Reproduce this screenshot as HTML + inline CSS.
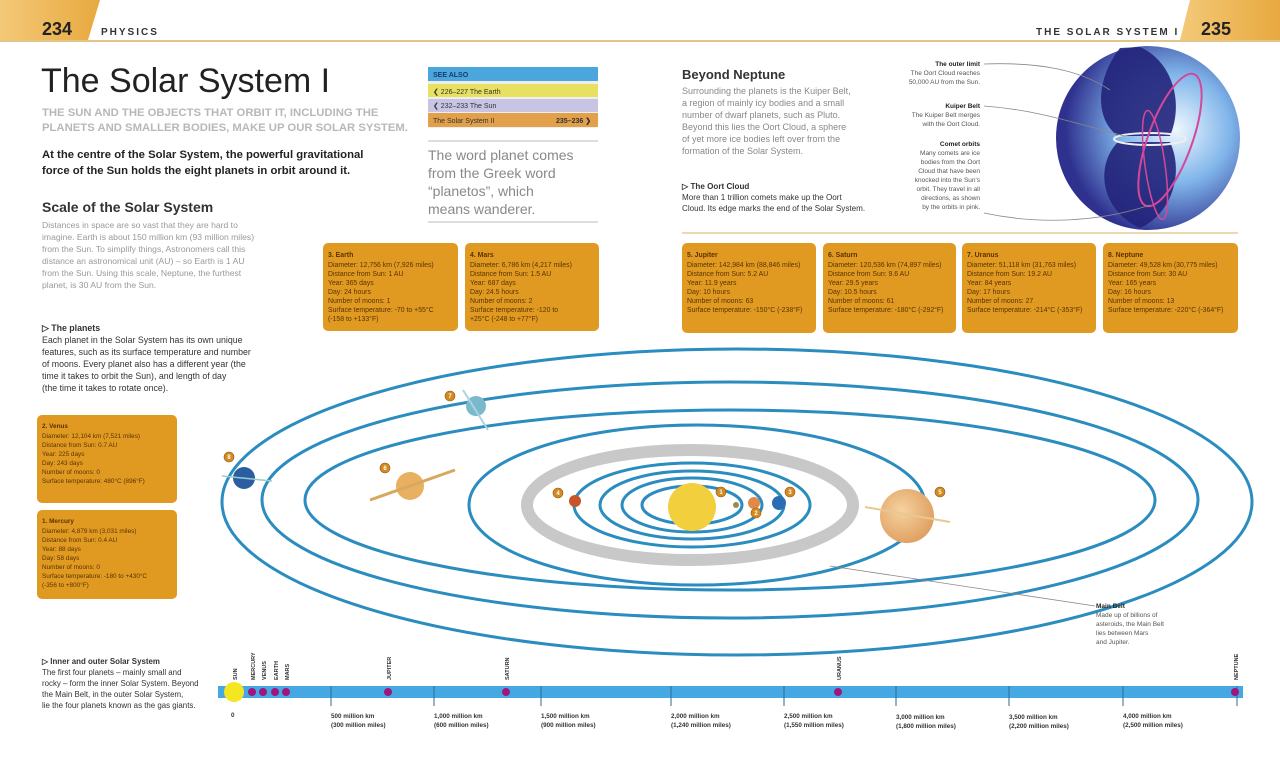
<!DOCTYPE html>
<html><head><meta charset="utf-8"><style>
body{margin:0;width:1280px;height:771px;background:#fff;overflow:hidden;font-family:"Liberation Sans",sans-serif}
svg{display:block}
.t{font-family:"Liberation Sans",sans-serif}
</style></head><body>
<svg width="1280" height="771" viewBox="0 0 1280 771" xmlns="http://www.w3.org/2000/svg">
<defs>
<linearGradient id="tab" x1="0" x2="1"><stop offset="0" stop-color="#f3c978"/><stop offset="1" stop-color="#e8a93f"/></linearGradient>
<radialGradient id="oort" cx="0.65" cy="0.45" r="0.6"><stop offset="0" stop-color="#eef8ff"/><stop offset="0.5" stop-color="#7fb4ea"/><stop offset="1" stop-color="#2f318f"/></radialGradient>
<radialGradient id="jup" cx="0.4" cy="0.4" r="0.7"><stop offset="0" stop-color="#f6d2a0"/><stop offset="1" stop-color="#dd9a5a"/></radialGradient>
</defs>
<path d="M0 0 H100 L88 40 H0 Z" fill="url(#tab)"/>
<path d="M1280 0 H1190 L1180 40 H1280 Z" fill="url(#tab)"/>
<line x1="0" y1="41" x2="1280" y2="41" stroke="#e2c48a" stroke-width="2"/>
<text x="42" y="35" font-size="18" font-weight="bold" fill="#222" class="t">234</text>
<text x="101" y="35" font-size="10" font-weight="bold" fill="#333" letter-spacing="2" class="t">PHYSICS</text>
<text x="1036" y="35" font-size="10" font-weight="bold" fill="#333" letter-spacing="2" class="t">THE SOLAR SYSTEM I</text>
<text x="1201" y="35" font-size="18" font-weight="bold" fill="#222" class="t">235</text>
<text x="41" y="92" font-size="34" fill="#222" class="t">The Solar System I</text>
<text x="42" y="116" font-size="11.3" font-weight="bold" fill="#b8b8b8" class="t">THE SUN AND THE OBJECTS THAT ORBIT IT, INCLUDING THE</text>
<text x="42" y="131" font-size="11.3" font-weight="bold" fill="#b8b8b8" class="t">PLANETS AND SMALLER BODIES, MAKE UP OUR SOLAR SYSTEM.</text>
<text x="42" y="158" font-size="11.3" font-weight="bold" fill="#222" class="t">At the centre of the Solar System, the powerful gravitational</text>
<text x="42" y="174" font-size="11.3" font-weight="bold" fill="#222" class="t">force of the Sun holds the eight planets in orbit around it.</text>
<text x="42" y="212" font-size="14" font-weight="bold" fill="#333" class="t">Scale of the Solar System</text>
<g font-size="8.6" fill="#999" class="t">
<text x="42" y="228">Distances in space are so vast that they are hard to</text>
<text x="42" y="240">imagine. Earth is about 150 million km (93 million miles)</text>
<text x="42" y="252">from the Sun. To simplify things, Astronomers call this</text>
<text x="42" y="264">distance an astronomical unit (AU) – so Earth is 1 AU</text>
<text x="42" y="276">from the Sun. Using this scale, Neptune, the furthest</text>
<text x="42" y="288">planet, is 30 AU from the Sun.</text>
</g>
<g font-size="8.8" fill="#333" class="t">
<text x="42" y="331" font-weight="bold">▷ The planets</text>
<text x="42" y="343">Each planet in the Solar System has its own unique</text>
<text x="42" y="355">features, such as its surface temperature and number</text>
<text x="42" y="367">of moons. Every planet also has a different year (the</text>
<text x="42" y="379">time it takes to orbit the Sun), and length of day</text>
<text x="42" y="391">(the time it takes to rotate once).</text>
</g>
<rect x="428" y="67" width="170" height="61" rx="3" fill="#eee"/>
<rect x="428" y="67" width="170" height="14" fill="#4aa6dd"/>
<rect x="428" y="84" width="170" height="13" fill="#e8e060"/>
<rect x="428" y="99" width="170" height="13" fill="#c7c4e4"/>
<rect x="428" y="113" width="170" height="14" fill="#e2a04a"/>
<g font-size="7" class="t">
<text x="433" y="77" font-weight="bold" fill="#1a3a6a">SEE ALSO</text>
<text x="433" y="94" fill="#333">❮ 226–227 The Earth</text>
<text x="433" y="108" fill="#333">❮ 232–233 The Sun</text>
<text x="433" y="123" fill="#333">The Solar System II</text>
<text x="556" y="123" fill="#333" font-weight="bold">235–236 ❯</text>
</g>
<line x1="428" y1="141" x2="598" y2="141" stroke="#ddd" stroke-width="2"/>
<g font-size="14" fill="#888" class="t">
<text x="428" y="160">The word planet comes</text>
<text x="428" y="178">from the Greek word</text>
<text x="428" y="196">“planetos”, which</text>
<text x="428" y="214">means wanderer.</text>
</g>
<line x1="428" y1="222" x2="598" y2="222" stroke="#ddd" stroke-width="2"/>
<text x="682" y="79" font-size="13" font-weight="bold" fill="#333" class="t">Beyond Neptune</text>
<g font-size="9" fill="#888" class="t">
<text x="682" y="94">Surrounding the planets is the Kuiper Belt,</text>
<text x="682" y="106">a region of mainly icy bodies and a small</text>
<text x="682" y="118">number of dwarf planets, such as Pluto.</text>
<text x="682" y="130">Beyond this lies the Oort Cloud, a sphere</text>
<text x="682" y="142">of yet more ice bodies left over from the</text>
<text x="682" y="154">formation of the Solar System.</text>
</g>
<g font-size="8.1" fill="#333" class="t">
<text x="682" y="189" font-weight="bold">▷ The Oort Cloud</text>
<text x="682" y="200">More than 1 trillion comets make up the Oort</text>
<text x="682" y="211">Cloud. Its edge marks the end of the Solar System.</text>
</g>
<g font-size="6.5" fill="#555" class="t" text-anchor="end">
<text x="980" y="66" font-weight="bold" fill="#222">The outer limit</text>
<text x="980" y="75">The Oort Cloud reaches</text>
<text x="980" y="84">50,000 AU from the Sun.</text>
<text x="980" y="108" font-weight="bold" fill="#222">Kuiper Belt</text>
<text x="980" y="117">The Kuiper Belt merges</text>
<text x="980" y="126">with the Oort Cloud.</text>
<text x="980" y="146" font-weight="bold" fill="#222">Comet orbits</text>
<text x="980" y="155">Many comets are ice</text>
<text x="980" y="164">bodies from the Oort</text>
<text x="980" y="173">Cloud that have been</text>
<text x="980" y="182">knocked into the Sun's</text>
<text x="980" y="191">orbit. They travel in all</text>
<text x="980" y="200">directions, as shown</text>
<text x="980" y="209">by the orbits in pink.</text>
</g>
<circle cx="1148" cy="138" r="92" fill="url(#oort)"/>
<path d="M1120 48 C1095 80 1095 120 1118 136 L1170 136 C1185 100 1170 60 1140 47 Z" fill="#22237a" opacity="0.9"/>
<path d="M1118 142 C1095 165 1100 210 1140 228 C1170 215 1185 175 1170 142 Z" fill="#22237a" opacity="0.9"/>
<ellipse cx="1150" cy="139" rx="36" ry="6" fill="none" stroke="#eee" stroke-width="2"/>
<ellipse cx="1170" cy="140" rx="22" ry="70" transform="rotate(20 1170 140)" fill="none" stroke="#d4489a" stroke-width="2"/>
<ellipse cx="1155" cy="165" rx="10" ry="55" transform="rotate(-8 1155 165)" fill="none" stroke="#d4489a" stroke-width="1.5"/>
<g stroke="#888" fill="none" stroke-width="0.8">
<path d="M984 64 C1040 62 1080 70 1110 90"/>
<path d="M984 106 C1040 110 1080 125 1125 136"/>
<path d="M984 213 C1040 225 1100 222 1150 205"/>
</g>
<line x1="682" y1="233" x2="1238" y2="233" stroke="#ecd9b0" stroke-width="2"/>
<g fill="#e09a22">
<rect x="323" y="243" width="135" height="88" rx="5"/>
<rect x="465" y="243" width="134" height="88" rx="5"/>
<rect x="682" y="243" width="134" height="90" rx="5"/>
<rect x="823" y="243" width="133" height="90" rx="5"/>
<rect x="962" y="243" width="134" height="90" rx="5"/>
<rect x="1103" y="243" width="135" height="90" rx="5"/>
<rect x="37" y="415" width="140" height="88" rx="5"/>
<rect x="37" y="510" width="140" height="89" rx="5"/>
</g>
<g font-size="6.9" fill="#5a3300" class="t">
<text x="328" y="257" font-weight="bold">3. Earth</text><text x="328" y="267">Diameter: 12,756 km (7,926 miles)</text><text x="328" y="276">Distance from Sun: 1 AU</text><text x="328" y="285">Year: 365 days</text><text x="328" y="294">Day: 24 hours</text><text x="328" y="303">Number of moons: 1</text><text x="328" y="312">Surface temperature: -70 to +55°C</text><text x="328" y="321">(-158 to +133°F)</text>
<text x="470" y="257" font-weight="bold">4. Mars</text><text x="470" y="267">Diameter: 6,786 km (4,217 miles)</text><text x="470" y="276">Distance from Sun: 1.5 AU</text><text x="470" y="285">Year: 687 days</text><text x="470" y="294">Day: 24.5 hours</text><text x="470" y="303">Number of moons: 2</text><text x="470" y="312">Surface temperature: -120 to</text><text x="470" y="321">+25°C (-248 to +77°F)</text>
<text x="687" y="257" font-weight="bold">5. Jupiter</text><text x="687" y="267">Diameter: 142,984 km (88,846 miles)</text><text x="687" y="276">Distance from Sun: 5.2 AU</text><text x="687" y="285">Year: 11.9 years</text><text x="687" y="294">Day: 10 hours</text><text x="687" y="303">Number of moons: 63</text><text x="687" y="312">Surface temperature: -150°C (-238°F)</text>
<text x="828" y="257" font-weight="bold">6. Saturn</text><text x="828" y="267">Diameter: 120,536 km (74,897 miles)</text><text x="828" y="276">Distance from Sun: 9.6 AU</text><text x="828" y="285">Year: 29.5 years</text><text x="828" y="294">Day: 10.5 hours</text><text x="828" y="303">Number of moons: 61</text><text x="828" y="312">Surface temperature: -180°C (-292°F)</text>
<text x="967" y="257" font-weight="bold">7. Uranus</text><text x="967" y="267">Diameter: 51,118 km (31,763 miles)</text><text x="967" y="276">Distance from Sun: 19.2 AU</text><text x="967" y="285">Year: 84 years</text><text x="967" y="294">Day: 17 hours</text><text x="967" y="303">Number of moons: 27</text><text x="967" y="312">Surface temperature: -214°C (-353°F)</text>
<text x="1108" y="257" font-weight="bold">8. Neptune</text><text x="1108" y="267">Diameter: 49,528 km (30,775 miles)</text><text x="1108" y="276">Distance from Sun: 30 AU</text><text x="1108" y="285">Year: 165 years</text><text x="1108" y="294">Day: 16 hours</text><text x="1108" y="303">Number of moons: 13</text><text x="1108" y="312">Surface temperature: -220°C (-364°F)</text>
</g>
<g font-size="6.4" fill="#5a3300" class="t">
<text x="42" y="428" font-weight="bold">2. Venus</text><text x="42" y="438">Diameter: 12,104 km (7,521 miles)</text><text x="42" y="447">Distance from Sun: 0.7 AU</text><text x="42" y="456">Year: 225 days</text><text x="42" y="465">Day: 243 days</text><text x="42" y="474">Number of moons: 0</text><text x="42" y="483">Surface temperature: 480°C (896°F)</text>
<text x="42" y="523" font-weight="bold">1. Mercury</text><text x="42" y="533">Diameter: 4,879 km (3,031 miles)</text><text x="42" y="542">Distance from Sun: 0.4 AU</text><text x="42" y="551">Year: 88 days</text><text x="42" y="560">Day: 58 days</text><text x="42" y="569">Number of moons: 0</text><text x="42" y="578">Surface temperature: -180 to +430°C</text><text x="42" y="587">(-356 to +800°F)</text>
</g>
<g fill="none" stroke="#2a8cbf" stroke-width="3">
<ellipse cx="737" cy="502" rx="515" ry="153"/>
<ellipse cx="730" cy="500" rx="468" ry="118"/>
<ellipse cx="730" cy="500" rx="425" ry="90"/>
<ellipse cx="697" cy="505" rx="228" ry="80"/>
</g>
<ellipse cx="690" cy="505" rx="163" ry="55" fill="none" stroke="#c8c8c8" stroke-width="12"/>
<g fill="none" stroke="#2a8cbf" stroke-width="3">
<ellipse cx="692" cy="505" rx="118" ry="42"/>
<ellipse cx="692" cy="505" rx="92" ry="34"/>
<ellipse cx="692" cy="505" rx="70" ry="27"/>
<ellipse cx="692" cy="505" rx="50" ry="19"/>
</g>
<circle cx="692" cy="507" r="24" fill="#f2cf3c"/>
<circle cx="736" cy="505" r="3" fill="#9a8a50"/>
<circle cx="754" cy="503" r="6" fill="#e0894a"/>
<circle cx="779" cy="503" r="7" fill="#2a6db5"/>
<circle cx="575" cy="501" r="6" fill="#c8552a"/>
<ellipse cx="907" cy="516" rx="27" ry="27" fill="url(#jup)"/>
<line x1="865" y1="507" x2="950" y2="522" stroke="#e8c890" stroke-width="2"/>
<circle cx="410" cy="486" r="14" fill="#e8b060"/>
<line x1="370" y1="500" x2="455" y2="470" stroke="#d9a860" stroke-width="3"/>
<circle cx="476" cy="406" r="10" fill="#7ab8cc"/>
<line x1="463" y1="390" x2="488" y2="430" stroke="#a8d4e0" stroke-width="2"/>
<circle cx="244" cy="478" r="11" fill="#2a5ea0"/>
<line x1="222" y1="476" x2="272" y2="481" stroke="#9cc" stroke-width="1.5"/>
<g fill="#d48a20" stroke="#8a5a10" stroke-width="0.6">
<circle cx="558" cy="493" r="5"/><circle cx="721" cy="492" r="5"/><circle cx="756" cy="513" r="5"/><circle cx="790" cy="492" r="5"/><circle cx="940" cy="492" r="5"/><circle cx="385" cy="468" r="5"/><circle cx="450" cy="396" r="5"/><circle cx="229" cy="457" r="5"/>
</g>
<g font-size="6" fill="#fff" text-anchor="middle" font-weight="bold" class="t">
<text x="558" y="495">4</text><text x="721" y="494">1</text><text x="756" y="515">2</text><text x="790" y="494">3</text><text x="940" y="494">5</text><text x="385" y="470">6</text><text x="450" y="398">7</text><text x="229" y="459">8</text>
</g>
<path d="M1095 606 L830 566" stroke="#888" fill="none" stroke-width="0.8"/>
<g font-size="6.5" fill="#555" class="t">
<text x="1096" y="608" font-weight="bold" fill="#222">Main Belt</text>
<text x="1096" y="617">Made up of billions of</text>
<text x="1096" y="626">asteroids, the Main Belt</text>
<text x="1096" y="635">lies between Mars</text>
<text x="1096" y="644">and Jupiter.</text>
</g>
<g font-size="7.9" fill="#333" class="t">
<text x="42" y="664" font-weight="bold">▷ Inner and outer Solar System</text>
<text x="42" y="675">The first four planets – mainly small and</text>
<text x="42" y="686">rocky – form the inner Solar System. Beyond</text>
<text x="42" y="697">the Main Belt, in the outer Solar System,</text>
<text x="42" y="708">lie the four planets known as the gas giants.</text>
</g>
<rect x="218" y="686" width="1025" height="12" fill="#45a8e2"/>
<g stroke="#2a6a9a" stroke-width="1">
<line x1="331" y1="686" x2="331" y2="706"/><line x1="434" y1="686" x2="434" y2="706"/><line x1="541" y1="686" x2="541" y2="706"/><line x1="671" y1="686" x2="671" y2="706"/><line x1="784" y1="686" x2="784" y2="706"/><line x1="896" y1="686" x2="896" y2="706"/><line x1="1009" y1="686" x2="1009" y2="706"/><line x1="1123" y1="686" x2="1123" y2="706"/><line x1="1237" y1="686" x2="1237" y2="706"/>
</g>
<circle cx="234" cy="692" r="10" fill="#f4e620"/>
<g fill="#a0167e">
<circle cx="252" cy="692" r="4"/><circle cx="263" cy="692" r="4"/><circle cx="275" cy="692" r="4"/><circle cx="286" cy="692" r="4"/><circle cx="388" cy="692" r="4"/><circle cx="506" cy="692" r="4"/><circle cx="838" cy="692" r="4"/><circle cx="1235" cy="692" r="4"/>
</g>
<g font-size="5.5" font-weight="bold" fill="#333" class="t">
<text transform="translate(237,680) rotate(-90)">SUN</text>
<text transform="translate(255,680) rotate(-90)">MERCURY</text>
<text transform="translate(266,680) rotate(-90)">VENUS</text>
<text transform="translate(278,680) rotate(-90)">EARTH</text>
<text transform="translate(289,680) rotate(-90)">MARS</text>
<text transform="translate(391,680) rotate(-90)">JUPITER</text>
<text transform="translate(509,680) rotate(-90)">SATURN</text>
<text transform="translate(841,680) rotate(-90)">URANUS</text>
<text transform="translate(1238,680) rotate(-90)">NEPTUNE</text>
</g>
<g font-size="6.3" font-weight="bold" fill="#333" class="t">
<text x="231" y="717">0</text>
<text x="331" y="718">500 million km</text><text x="331" y="727">(300 million miles)</text>
<text x="434" y="718">1,000 million km</text><text x="434" y="727">(600 million miles)</text>
<text x="541" y="718">1,500 million km</text><text x="541" y="727">(900 million miles)</text>
<text x="671" y="718">2,000 million km</text><text x="671" y="727">(1,240 million miles)</text>
<text x="784" y="718">2,500 million km</text><text x="784" y="727">(1,550 million miles)</text>
<text x="896" y="719">3,000 million km</text><text x="896" y="728">(1,800 million miles)</text>
<text x="1009" y="719">3,500 million km</text><text x="1009" y="728">(2,200 million miles)</text>
<text x="1123" y="718">4,000 million km</text><text x="1123" y="727">(2,500 million miles)</text>
</g>
</svg>
</body></html>
